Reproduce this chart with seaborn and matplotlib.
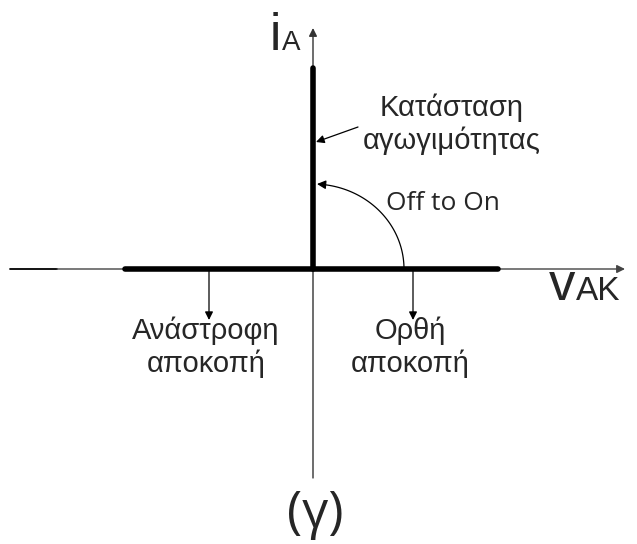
import numpy as np
import pandas as pd
import matplotlib.pyplot as plt
import seaborn as sns

# ideal thyristor characteristic (arbitrary units, origin = axes crossing)
v_off = [-188, 0, 185]          # reverse + forward blocking
i_off = [0, 0, 0]
v_on = [0, 0]                   # conduction
i_on = [0, 201]

v_axis = [-303, 312]
i_axis = [-209, 241]
drop_x = [-104, 100]            # arrows to "Ανάστροφη / Ορθή αποκοπή"
drop_len = 51

labels_off = ['Ανάστροφη\nαποκοπή', 'Ορθή\nαποκοπή']
label_on = 'Κατάσταση\nαγωγιμότητας'
label_switch = 'Off to On'
caption = '(γ)'

sns.set_style('white')
plt.rcParams['font.family'] = ['Liberation Sans', 'DejaVu Sans']

fig = plt.figure(figsize=(6.37, 5.44), dpi=100)
ax = fig.add_axes([0, 0, 1, 1])
ax.set_xlim(-313, 324)
ax.set_ylim(-275, 269)
ax.axis('off')

# axes
ax.plot([v_axis[0], v_axis[0] + 47], [0, 0], color='black', lw=1.3, zorder=1)
ax.annotate('', xy=(v_axis[1], 0), xytext=(v_axis[0] + 47, 0),
            arrowprops=dict(arrowstyle='-|>', color='#444444', lw=1.0,
                            mutation_scale=12, shrinkA=0, shrinkB=0),
            zorder=1)
ax.annotate('', xy=(0, i_axis[1]), xytext=(0, i_axis[0]),
            arrowprops=dict(arrowstyle='-|>', color='#333333', lw=1.0,
                            mutation_scale=12, shrinkA=0, shrinkB=0),
            zorder=1)

# characteristic
off = pd.DataFrame({'v': v_off, 'i': i_off})
on = pd.DataFrame({'v': v_on, 'i': i_on})
sns.lineplot(data=off, x='v', y='i', ax=ax, color='black', linewidth=4.0,
             sort=False, estimator=None, solid_capstyle='round', zorder=5)
sns.lineplot(data=on, x='v', y='i', ax=ax, color='black', linewidth=4.0,
             sort=False, estimator=None, orient='y', solid_capstyle='round',
             zorder=5)
ax.set_xlabel('')
ax.set_ylabel('')

# drop arrows to blocking labels
for x, lab in zip(drop_x, labels_off):
    ax.annotate('', xy=(x, -drop_len), xytext=(x, 0),
                arrowprops=dict(arrowstyle='-|>', color='black', lw=0.9,
                                mutation_scale=12, shrinkA=0, shrinkB=0))
    ax.text(x - 3, -78, lab, ha='center', va='center', fontsize=21,
            linespacing=1.2)

# Off to On arc
t = np.linspace(0, np.pi / 2, 60)
ax.plot(91 * np.cos(t[:-3]), 85 * np.sin(t[:-3]), color='black', lw=0.9)
ax.annotate('', xy=(4, 85), xytext=(91 * np.cos(t[-4]), 85 * np.sin(t[-4])),
            arrowprops=dict(arrowstyle='-|>', color='black', lw=0.9,
                            mutation_scale=13, shrinkA=0, shrinkB=0))
ax.text(130, 66, label_switch, ha='center', va='center', fontsize=19,
        family=['Open Sans', 'DejaVu Sans'])

# conduction label
ax.annotate('', xy=(3, 127), xytext=(45, 142),
            arrowprops=dict(arrowstyle='-|>', color='black', lw=0.9,
                            mutation_scale=12, shrinkA=0, shrinkB=0))
ax.text(139, 145, label_on, ha='center', va='center', fontsize=21,
        linespacing=1.2)

# axis names
ax.text(-32, 219, 'i', ha='right', va='baseline', fontsize=37)
ax.text(-31, 219, 'A', ha='left', va='baseline', fontsize=20)
ax.text(262, -31, 'v', ha='right', va='baseline', fontsize=38)
ax.text(263, -31, 'AK', ha='left', va='baseline', fontsize=24)

ax.text(2, -245, caption, ha='center', va='center', fontsize=37,
        family=['Open Sans', 'DejaVu Sans'])

fig.savefig('out.png', dpi=100)
